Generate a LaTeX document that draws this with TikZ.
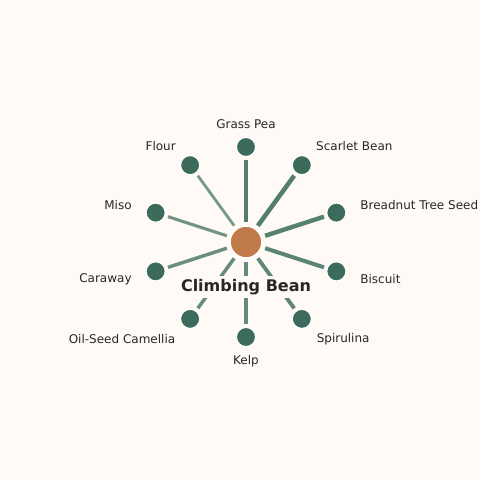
\documentclass[tikz,border=0pt]{standalone}
\usepackage{fontspec}
\setmainfont{DejaVu Sans}
\usetikzlibrary{calc}
\definecolor{bgColor}{HTML}{FFFAF6}
\definecolor{hubColor}{HTML}{C17A4A}
\definecolor{leafColor}{HTML}{3D6B5B}
\definecolor{linkColor}{HTML}{4A7866}
\definecolor{textColor}{HTML}{2B2622}
\tikzset{
  hub/.style={circle,fill=hubColor,draw=white,line width=1.2pt,minimum size=24pt,inner sep=0pt},
  leaf/.style={circle,fill=leafColor,draw=white,line width=1pt,minimum size=14.5pt,inner sep=0pt},
  link/.style={draw=linkColor,shorten <=2.5pt,shorten >=2pt},
  tag/.style={font=\fontsize{9}{11}\selectfont,text=textColor,inner sep=0pt}
}

\begin{document}
\begin{tikzpicture}[x=0.75pt,y=0.75pt]
    % page, 480 x 480 px
    \fill[bgColor] (-246,-238) rectangle (234,242);

    \node[hub] (hub) at (0,0) {};

    \node[leaf] (grass) at (90:95) {};
    \node[leaf] (scarlet) at (54:95) {};
    \node[leaf] (breadnut) at (18:95) {};
    \node[leaf] (biscuit) at (-18:95) {};
    \node[leaf] (spirulina) at (-54:95) {};
    \node[leaf] (kelp) at (-90:95) {};
    \node[leaf] (camellia) at (-126:95) {};
    \node[leaf] (caraway) at (-162:95) {};
    \node[leaf] (miso) at (162:95) {};
    \node[leaf] (flour) at (126:95) {};

    \draw[link,line width=3.4pt,draw opacity=0.95] (hub) -- (grass);
    \draw[link,line width=3.4pt,draw opacity=0.95] (hub) -- (scarlet);
    \draw[link,line width=3.3pt,draw opacity=0.93] (hub) -- (breadnut);
    \draw[link,line width=3pt,draw opacity=0.9] (hub) -- (biscuit);
    \draw[link,line width=2.9pt,draw opacity=0.88] (hub) -- (spirulina);
    \draw[link,line width=2.7pt,draw opacity=0.86] (hub) -- (kelp);
    \draw[link,line width=2.6pt,draw opacity=0.84] (hub) -- (camellia);
    \draw[link,line width=2.6pt,draw opacity=0.82] (hub) -- (caraway);
    \draw[link,line width=2.3pt,draw opacity=0.78] (hub) -- (miso);
    \draw[link,line width=2.1pt,draw opacity=0.75] (hub) -- (flour);

    \node[tag] (grassL) at (90:118) {Grass Pea};
    \node[tag,anchor=west] (scarletL) at (54:119) {Scarlet Bean};
    \node[tag,anchor=west] (breadnutL) at (18:120) {Breadnut Tree Seed};
    \node[tag,anchor=west] (biscuitL) at (-18:120) {Biscuit};
    \node[tag,anchor=west] (spirulinaL) at (-54:120) {Spirulina};
    \node[tag] (kelpL) at (-90:119.5) {Kelp};
    \node[tag,anchor=east] (camelliaL) at (-126:120) {Oil-Seed Camellia};
    \node[tag,anchor=east] (carawayL) at (-162:120) {Caraway};
    \node[tag,anchor=east] (misoL) at (162:120) {Miso};
    \node[tag,anchor=east] (flourL) at (126:119) {Flour};

    % title sits over the links
    \node[fill=bgColor,inner sep=2.5pt,text=textColor,font=\fontsize{12}{14}\selectfont\bfseries] (title) at (0,-45) {Climbing Bean};
\end{tikzpicture}
\end{document}
